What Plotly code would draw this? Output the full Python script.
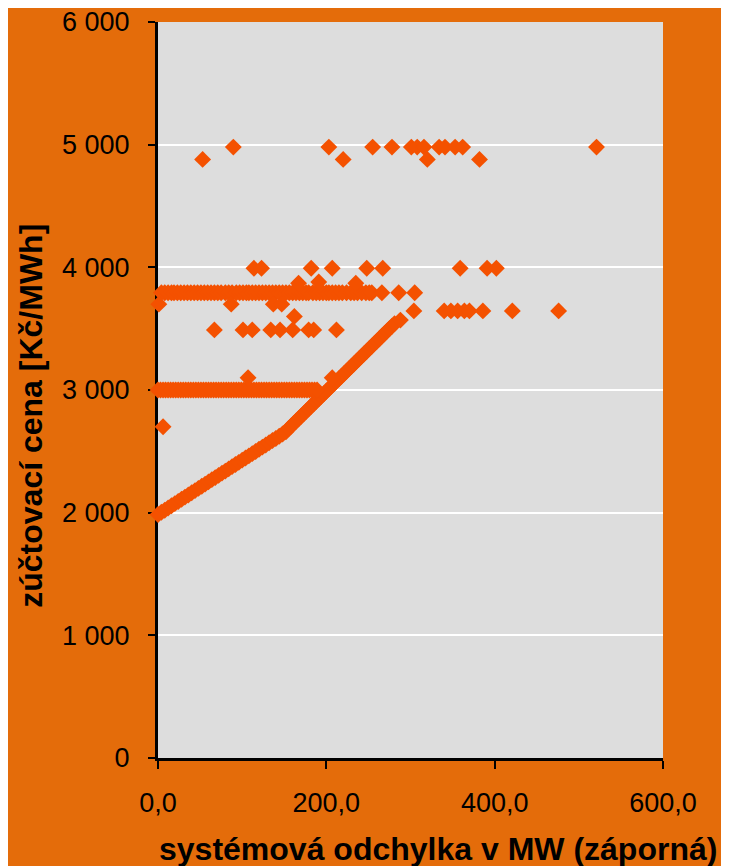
import plotly.graph_objects as go

# ---- data ----
# main curve (dense band of points)
curve_x = [0, 4, 8, 12, 16, 20, 24, 28, 32, 36, 40, 44, 48, 52, 56, 60, 64, 68, 72, 76,
           80, 84, 88, 92, 96, 100, 104, 108, 112, 116, 120, 124, 128, 132, 136, 140, 144,
           148, 152, 155, 158, 161, 164, 167, 170, 173, 176, 179, 182, 185, 188, 191, 194,
           197, 200, 203, 206, 209, 212, 215, 218, 221, 224, 227, 230, 233, 236, 239, 242,
           245, 248, 251, 254, 257, 260, 263, 266, 269, 272, 275, 278, 281, 288, 304]
curve_y = [1985, 2003, 2020, 2038, 2056, 2074, 2091, 2109, 2127, 2144, 2162, 2180, 2198,
           2215, 2233, 2251, 2269, 2286, 2304, 2322, 2339, 2357, 2375, 2393, 2410, 2428,
           2446, 2463, 2481, 2499, 2517, 2534, 2552, 2570, 2588, 2605, 2623, 2641, 2660,
           2684, 2704, 2725, 2745, 2766, 2786, 2806, 2827, 2847, 2868, 2888, 2908, 2929,
           2949, 2970, 2990, 3010, 3031, 3051, 3072, 3092, 3112, 3133, 3153, 3174, 3194,
           3214, 3235, 3255, 3276, 3296, 3316, 3337, 3357, 3378, 3398, 3418, 3439, 3459,
           3480, 3500, 3520, 3541, 3570, 3645]

# horizontal band at 3 000
row3000_x = [0, 3, 6, 9, 12, 15, 18, 21, 24, 27, 30, 33, 36, 39, 42, 45, 48, 51, 54, 57,
             60, 63, 66, 69, 72, 75, 78, 81, 84, 87, 90, 93, 96, 99, 102, 105, 108, 111,
             114, 117, 120, 123, 126, 129, 132, 135, 138, 141, 144, 147, 150, 153, 156,
             159, 162, 165, 168, 171, 174, 177, 180, 183, 186, 189]
row3000_y = 3000

# horizontal band at ~3 800
row3800_x = [4, 8, 12, 16, 19, 23, 27, 31, 35, 39, 43, 47, 51, 55, 59, 63, 67, 71, 75, 80,
             84, 88, 93, 97, 101, 105, 108, 112, 116, 120, 124, 128, 132, 136, 140, 144,
             148, 152, 156, 160, 164, 168, 172, 176, 179, 184, 188, 192, 196, 200, 203,
             207, 211, 215, 219, 224, 229, 233, 237, 242, 247, 251, 254, 266, 286, 305]
row3800_y = 3793

# scattered points
other_x = [1, 87, 137, 147, 6, 107, 207, 162,
           67, 101, 112, 134, 145, 160, 179, 185, 212,
           167, 191, 235,
           114, 123, 182, 207, 248, 267, 359, 391, 402,
           340, 348, 356, 364, 370, 386, 421, 476,
           89.5, 203, 255, 278, 301, 308, 316, 334, 341, 353, 362, 521,
           53, 220, 320, 382]
other_y = [3700, 3700, 3700, 3700, 2700, 3100, 3100, 3600,
           3490, 3490, 3490, 3490, 3490, 3490, 3490, 3490, 3490,
           3870, 3880, 3870,
           3992, 3992, 3992, 3992, 3992, 3992, 3992, 3992, 3992,
           3645, 3645, 3645, 3645, 3645, 3645, 3645, 3645,
           4980, 4980, 4980, 4980, 4980, 4980, 4980, 4980, 4980, 4980, 4980, 4980,
           4880, 4880, 4880, 4880]

x_tickvals = [0, 200, 400, 600]
x_ticktext = ["0,0", "200,0", "400,0", "600,0"]
y_tickvals = [0, 1000, 2000, 3000, 4000, 5000, 6000]
y_ticktext = ["0", "1 000", "2 000", "3 000", "4 000", "5 000", "6 000"]

x_title = "systémová odchylka v MW (záporná)"
y_title = "zúčtovací cena [Kč/MWh]"

# ---- build ----
all_x = curve_x + row3000_x + row3800_x + other_x
all_y = (curve_y + [row3000_y] * len(row3000_x) + [row3800_y] * len(row3800_x) + other_y)

BG = "#E46C0A"
MARK = "#F45100"

fig = go.Figure()
fig.add_trace(go.Scatter(
    x=all_x, y=all_y, mode="markers", cliponaxis=False,
    marker=dict(symbol="diamond", size=13, color=MARK, line=dict(width=0)),
    showlegend=False, hoverinfo="skip"))

tickfont = dict(family="Liberation Sans, Arial, sans-serif", size=27, color="black")
titlefont = dict(family="Liberation Sans, Arial, sans-serif", size=32,
                 color="black", weight="bold")

fig.update_layout(
    width=729, height=866,
    paper_bgcolor=BG, plot_bgcolor="#DDDDDD",
    margin=dict(l=150, r=74, t=14, b=116, autoexpand=False),
    xaxis=dict(range=[0, 600], tickvals=x_tickvals, ticktext=x_ticktext,
               showgrid=False, zeroline=False, showline=True, linecolor="black",
               linewidth=3, ticks="outside", ticklen=8, tickwidth=2, tickcolor="black",
               tickfont=tickfont, ticklabelstandoff=11, ticklabeloverflow="allow",
               automargin=False, layer="below traces"),
    yaxis=dict(range=[0, 6000], tickvals=y_tickvals, ticktext=y_ticktext,
               showgrid=True, gridcolor="white", gridwidth=2, zeroline=False,
               showline=True, linecolor="black", linewidth=3, ticks="outside",
               ticklen=7, tickwidth=2, tickcolor="black", tickfont=tickfont,
               ticklabelstandoff=13, ticklabeloverflow="allow",
               automargin=False, layer="below traces"),
    annotations=[
        dict(text=x_title, xref="paper", yref="paper", x=0.5545, y=-0.124,
             xanchor="center", yanchor="middle", showarrow=False, font=titlefont),
        dict(text=y_title, xref="paper", yref="paper", x=-0.2515, y=0.465,
             xanchor="center", yanchor="middle", showarrow=False, textangle=-90,
             font=titlefont),
    ],
)

fig.write_html("out.html")
